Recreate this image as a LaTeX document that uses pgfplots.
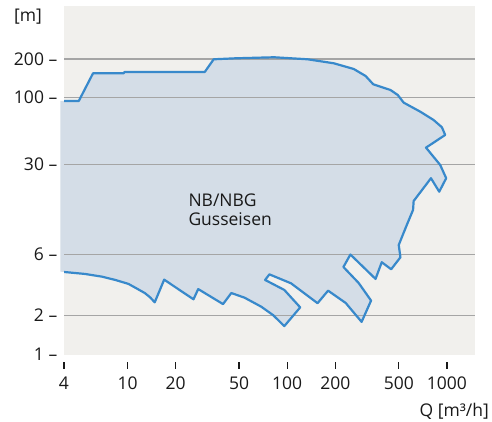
\documentclass[border=0pt]{standalone}
\usepackage{pgfplots}
\pgfplotsset{compat=1.18}
\usepackage{fontspec}
\setmainfont{Open Sans}
\definecolor{bgc}{RGB}{241,240,237}
\definecolor{fillc}{RGB}{212,221,231}
\definecolor{linec}{RGB}{56,137,203}
\definecolor{gridc}{RGB}{165,165,165}
\definecolor{txt}{RGB}{25,25,25}
\newcommand{\xt}[1]{\vbox{\offinterlineskip\halign{\hfil##\hfil\cr\rule{1.3pt}{6.8pt}\cr\noalign{\kern 8pt}#1\cr}}}
\pgfplotsset{
 layers/mine/.define layer set={axis background,fillayer,axis grid,axis ticks,axis lines,axis tick labels,pre main,main,axis descriptions,axis foreground}{
  grid style={/pgfplots/on layer=axis grid},
  tick style={/pgfplots/on layer=axis ticks},
  axis line style={/pgfplots/on layer=axis lines},
  label style={/pgfplots/on layer=axis descriptions},
  legend style={/pgfplots/on layer=axis descriptions},
  title style={/pgfplots/on layer=axis descriptions},
  colorbar style={/pgfplots/on layer=axis descriptions},
  ticklabel style={/pgfplots/on layer=axis tick labels},
  axis background@ style={/pgfplots/on layer=axis background},
  3d box foreground style={/pgfplots/on layer=axis foreground},
 },
}
\begin{document}
\begin{tikzpicture}
\begin{axis}[
 set layers=mine,
 at={(0pt,0pt)}, anchor=south west,
 scale only axis, width=411pt, height=349pt,
 xmode=log, ymode=log,
 xmin=4, xmax=1500, ymin=0.982, ymax=518,
 axis line style={draw=none},
 axis background/.style={fill=bgc},
 ymajorgrids, grid style={draw=gridc, line width=1.3pt},
 xminorticks=false, yminorticks=false,
 xtick={4,10,20,50,100,200,500,1000},
 xticklabels={\xt{4},\xt{10},\xt{20},\xt{50},\xt{100},\xt{200},\xt{500},\xt{1000}},
 ytick={2,6,30,100,200},
 yticklabels={{2 –},{6 –},{30 –},{100 –},{200 –}},
 extra y ticks={1}, extra y tick labels={{1 –}},
 extra y tick style={grid=none},
 xtick pos=bottom, ytick pos=left,
 tick align=inside, major tick length=0pt,
 tick style={draw=none},
 /pgf/number format/assume math mode=true,
 tick label style={font=\fontsize{17.5}{19}\selectfont, text=txt, inner sep=0pt},
 yticklabel style={anchor=east, xshift=-6.5pt},
 xticklabel style={anchor=north, yshift=-6.7pt},
]
\addplot[fill=fillc, draw=none, on layer=fillayer] coordinates {
(3.8,94.1) (4.95,94.1) (6.08,154.7) (9.44,154.7) (9.58,158.4) (30.45,158.4)
(34.64,199.0) (47.97,202.6) (82.77,206.3) (134.2,199.0) (195.7,185.2)
(260.8,167.2) (309.7,147.4) (345.8,127.0) (443.3,114.6) (492.3,104.8)
(536.6,91.3) (681.8,77.6) (825.2,66.9) (930.6,58.7) (975.9,51.1)
(740.0,40.7) (908.4,29.8) (989.9,23.5) (895.4,18.45) (794.9,23.5)
(619.3,15.6) (614.0,13.3) (555.3,9.84) (499.4,7.08) (511.7,5.68)
(447.8,4.58) (390.8,5.20) (357.5,3.85) (248.7,5.97) (224.9,4.77)
(280.2,3.58) (335.1,2.61) (292.4,1.78) (232.4,2.50) (180.3,3.12)
(154.9,2.49) (105.6,3.56) (77.35,4.18) (72.71,3.78) (95.9,3.16)
(120.6,2.31) (95.9,1.65) (81.6,2.01) (68.7,2.34) (54.04,2.75)
(44.65,2.99) (39.64,2.45) (27.7,3.21) (25.89,2.67) (16.96,3.80)
(14.80,2.53) (13.87,2.76) (12.87,2.98) (11.43,3.24) (10.14,3.52)
(8.39,3.78) (6.92,4.01) (5.42,4.21) (3.8,4.39)
} -- cycle;
\addplot[draw=linec, line width=2.2pt, line join=round] coordinates {
(3.8,94.1) (4.95,94.1) (6.08,154.7) (9.44,154.7) (9.58,158.4) (30.45,158.4)
(34.64,199.0) (47.97,202.6) (82.77,206.3) (134.2,199.0) (195.7,185.2)
(260.8,167.2) (309.7,147.4) (345.8,127.0) (443.3,114.6) (492.3,104.8)
(536.6,91.3) (681.8,77.6) (825.2,66.9) (930.6,58.7) (975.9,51.1)
(740.0,40.7) (908.4,29.8) (989.9,23.5) (895.4,18.45) (794.9,23.5)
(619.3,15.6) (614.0,13.3) (555.3,9.84) (499.4,7.08) (511.7,5.68)
(447.8,4.58) (390.8,5.20) (357.5,3.85) (248.7,5.97) (224.9,4.77)
(280.2,3.58) (335.1,2.61) (292.4,1.78) (232.4,2.50) (180.3,3.12)
(154.9,2.49) (105.6,3.56) (77.35,4.18) (72.71,3.78) (95.9,3.16)
(120.6,2.31) (95.9,1.65) (81.6,2.01) (68.7,2.34) (54.04,2.75)
(44.65,2.99) (39.64,2.45) (27.7,3.21) (25.89,2.67) (16.96,3.80)
(14.80,2.53) (13.87,2.76) (12.87,2.98) (11.43,3.24) (10.14,3.52)
(8.39,3.78) (6.92,4.01) (5.42,4.21) (3.8,4.39)
} -- cycle;
\end{axis}
\node[anchor=base west, inner sep=0pt, text=txt, font=\fontsize{17.5}{19}\selectfont] at (-50pt,333.5pt) {[m]};
\node[anchor=base west, inner sep=0pt, text=txt, font=\fontsize{17.5}{19}\selectfont] at (124.3pt,148.3pt) {NB/NBG};
\node[anchor=base west, inner sep=0pt, text=txt, font=\fontsize{17.5}{19}\selectfont] at (124.3pt,130pt) {Gusseisen};
\node[anchor=base east, inner sep=0pt, text=txt, font=\fontsize{17.5}{19}\selectfont] at (425pt,-61.7pt) {Q [m³/h]};
\path (-64pt,-66pt) rectangle (428pt,355pt);
\end{tikzpicture}
\end{document}
